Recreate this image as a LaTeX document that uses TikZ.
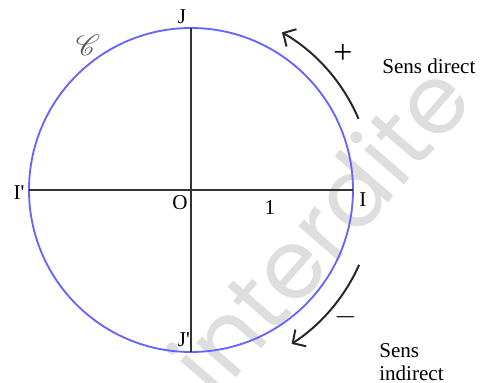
\documentclass[tikz,border=0pt]{standalone}
\usepackage{fontspec}
\setmainfont{Liberation Serif}
\newfontfamily\markfont{Poppins}
\usepackage{mathrsfs}
\usepackage{tikz}
\usetikzlibrary{calc,arrows.meta,positioning}
\tikzset{
    cercle/.style={draw={rgb,255:red,100;green,100;blue,255}, line width=1.3pt},
    axe/.style={draw=black!80, line width=0.9pt},
    sens/.style={draw=black!85, line width=1.4pt, -{Straight Barb[length=2.4mm, width=5mm]}},
    lbl/.style={font=\fontsize{15}{17}\selectfont, inner sep=0pt}
}

\begin{document}
\begin{tikzpicture}[x=0.025cm, y=0.025cm]
    \useasboundingbox (-191,-192) rectangle (289,190);
    % watermark
    \node[text=black!13, rotate=49, font=\markfont\fontsize{68}{70}\selectfont] (wm) at (128,-38) {interdite};

    % Nodes
    \coordinate (O) at (0,0);
    \coordinate (I) at (0:162);
    \coordinate (Ip) at (180:162);
    \coordinate (J) at (90:162);
    \coordinate (Jp) at (270:162);
    \coordinate (d1) at (23:182);
    \coordinate (d2) at (-24:184);

    % circle and axes
    \draw[cercle] (O) circle (162);
    \draw[axe] (Ip) -- (I);
    \draw[axe] (J) -- (Jp);

    % labels
    \node[lbl] (lJ) at (-9,173) {J};
    \node[lbl] (lJp) at (-7,-150) {J\textquotesingle};
    \node[lbl] (lIp) at (-172,-3) {I\textquotesingle};
    \node[lbl] (lI) at (172,-10) {I};
    \node[lbl] (lO) at (-11,-13) {O};
    \node[lbl] (lun) at (79,-18) {1};
    \node[text=black!65, font=\fontsize{21}{21}\selectfont, inner sep=0pt] (lC) at (-103,145) {$\mathscr{C}$};

    % sens
    \draw[sens] (d1) arc[start angle=23, end angle=60, radius=182];
    \draw[sens] (d2) arc[start angle=-24, end angle=-57, radius=183];
    \node[font=\fontsize{24}{24}\selectfont, inner sep=0pt] (plus) at (152,136) {+};
    \node[font=\fontsize{22}{22}\selectfont, inner sep=0pt] (moins) at (155,-127) {$-$};
    \node[lbl, anchor=west] (direct) at (191,124) {Sens direct};
    \node[lbl, anchor=west, align=left] (indirect) at (188,-172) {Sens\\[-1pt]indirect};
\end{tikzpicture}
\end{document}
